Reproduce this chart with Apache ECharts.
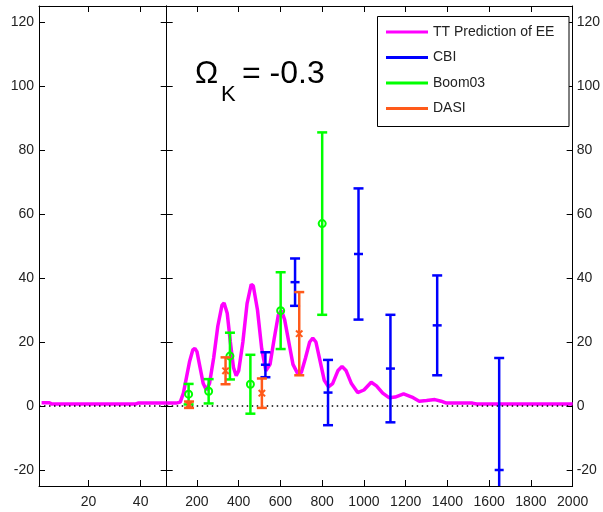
<!DOCTYPE html>
<html>
<head>
<meta charset="utf-8">
<script src="https://cdn.jsdelivr.net/npm/echarts@6/dist/echarts.min.js"></script>
<style>html,body{margin:0;padding:0;background:#fff;}#c{width:603px;height:512px;}</style>
</head>
<body>
<div id="c"></div>
<script>
// ---- data ----
var ttLeft = [[2,1.0],[5,1.0],[6,0.6],[38,0.6],[39,0.9],[50,0.9]];
var ttRight = [[55,0.9],[100,0.9],[120,1.2],[135,4],[150,9],[165,14],[180,17.5],[190,18],[200,17],[215,12],[230,7],[245,5],[260,7],[280,15],[300,25],[320,31.5],[330,32.2],[345,29],[360,20],[375,12],[388,9.5],[400,11],[420,20],[440,32],[460,38],[470,37.5],[490,30],[510,18],[530,11],[550,13],[570,21],[590,28.5],[605,29.8],[620,27],[640,20],[660,13],[685,9.8],[700,10.5],[720,15],[740,20],[755,21.2],[770,20],[790,14],[810,8],[830,6],[850,7],[875,11],[895,12.4],[915,11],[940,7],[970,4.2],[1000,5],[1035,7.4],[1060,6.3],[1090,4],[1120,2.6],[1150,2.8],[1190,3.8],[1230,2.8],[1265,1.5],[1300,1.7],[1340,2],[1370,1.5],[1395,0.9],[1450,0.9],[1520,0.9],[1540,0.6],[2000,0.6]];
// [ell, value, error]
var cbi = [[528,12.9,3.9],[670,38.7,7.4],[828,4.2,10.2],[974,47.5,20.5],[1127,11.7,16.8],[1351,25.2,15.6],[1648,-20,35]];
var boom03 = [[160,3.7,3.2],[256,4.6,3.8],[358,15.6,7.3],[456,6.8,9.2],[601,29.8,12],[800,57,28.5]];
var dasi = [[162,0.4,1.0],[337,11,4.2],[511,4,4.6],[690,22.6,13]];
var yTicks = [-20,0,20,40,60,80,100,120];
var xTicksLeft = [20,40];
var xTicksRight = [200,400,600,800,1000,1200,1400,1600,1800,2000];
var legendNames = ['TT Prediction of EE','CBI','Boom03','DASI'];

var C_TT = '#ff00ff', C_CBI = '#0000ff', C_BOOM = '#00ff00', C_DASI = '#ff5a1a';
var FONT = 'Liberation Sans, Arial, Helvetica, sans-serif';

function errRender(kind, color) {
  return function (params, api) {
    var x = api.value(0), y = api.value(1), e = api.value(2);
    var cs = params.coordSys;
    var pT = api.coord([x, y + e]), pB = api.coord([x, y - e]), pC = api.coord([x, y]);
    var top = cs.y, bot = cs.y + cs.height;
    var yT = Math.max(pT[1], top), yB = Math.min(pB[1], bot);
    var st = {stroke: color, lineWidth: 2.5, fill: null};
    var ch = [];
    ch.push({type: 'line', shape: {x1: pC[0], y1: yT, x2: pC[0], y2: yB}, style: st});
    var cw = 5;
    if (pT[1] >= top) ch.push({type: 'line', shape: {x1: pC[0]-cw, y1: pT[1], x2: pC[0]+cw, y2: pT[1]}, style: st});
    if (pB[1] <= bot) ch.push({type: 'line', shape: {x1: pC[0]-cw, y1: pB[1], x2: pC[0]+cw, y2: pB[1]}, style: st});
    if (pC[1] >= top && pC[1] <= bot) {
      if (kind === 'plus') {
        ch.push({type: 'line', shape: {x1: pC[0]-4.5, y1: pC[1], x2: pC[0]+4.5, y2: pC[1]}, style: st});
      } else if (kind === 'circle') {
        ch.push({type: 'circle', shape: {cx: pC[0], cy: pC[1], r: 3.5}, style: {stroke: color, lineWidth: 2, fill: null}});
      } else {
        var s = 3.2;
        ch.push({type: 'line', shape: {x1: pC[0]-s, y1: pC[1]-s, x2: pC[0]+s, y2: pC[1]+s}, style: {stroke: color, lineWidth: 2}});
        ch.push({type: 'line', shape: {x1: pC[0]-s, y1: pC[1]+s, x2: pC[0]+s, y2: pC[1]-s}, style: {stroke: color, lineWidth: 2}});
      }
    }
    return {type: 'group', children: ch};
  };
}

var axisLine = {show: true, onZero: false, lineStyle: {color: '#000', width: 1}};
var labelStyle = {color: '#222', fontSize: 14, fontFamily: FONT, formatter: function (v) { return String(v); }};
function xAx(grid, min, max, ticks, pos, labels) {
  return {type: 'value', gridIndex: grid, min: min, max: max, position: pos,
    axisLine: axisLine, splitLine: {show: false},
    axisTick: {show: true, inside: true, length: 6, customValues: ticks, lineStyle: {color: '#000'}},
    axisLabel: labels ? Object.assign({show: true, margin: 9, customValues: ticks, showMinLabel: true, showMaxLabel: true}, labelStyle) : {show: false}};
}
function yAx(grid, pos, labels) {
  return {type: 'value', gridIndex: grid, min: -25, max: 125, position: pos,
    axisLine: axisLine, splitLine: {show: false},
    axisTick: {show: true, inside: true, length: 6, customValues: yTicks, lineStyle: {color: '#000'}},
    axisLabel: labels ? Object.assign({show: true, margin: pos === 'left' ? 5 : 4, customValues: yTicks}, labelStyle) : {show: false}};
}

var zeroStyle = {color: '#000', width: 1.5, type: [1.5, 3.5]};

var option = {
  animation: false,
  backgroundColor: '#fff',
  grid: [
    {left: 39, top: 6, width: 127.7, height: 480, show: false},
    {left: 166.7, top: 6, width: 410, height: 480, show: false}
  ],
  xAxis: [
    xAx(0, 1, 50, xTicksLeft, 'bottom', true),
    xAx(0, 1, 50, xTicksLeft, 'top', false),
    xAx(1, 55, 2000, xTicksRight, 'bottom', true),
    xAx(1, 55, 2000, xTicksRight, 'top', false)
  ],
  yAxis: [
    yAx(0, 'left', true),
    yAx(0, 'right', false),
    yAx(1, 'left', false),
    yAx(1, 'right', true)
  ],
  legend: {
    orient: 'vertical', left: 386, top: 24, padding: 0, itemWidth: 42, itemHeight: 3, itemGap: 9.5,
    selectedMode: false, z: 10,
    textStyle: {color: '#222', fontSize: 14, fontFamily: FONT, lineHeight: 16},
    data: legendNames.map(function (n) { return {name: n, icon: 'rect'}; })
  },
  graphic: [
    {type: 'rect', z: 5, shape: {x: 377.5, y: 16.5, width: 191.5, height: 110}, style: {fill: '#fff', stroke: '#000', lineWidth: 1}},
    {type: 'text', x: 195, y: 74.5, z: 10, style: {text: 'Ω', fontSize: 31, fontFamily: FONT, fill: '#000', verticalAlign: 'middle'}},
    {type: 'text', x: 221, y: 94.5, z: 10, style: {text: 'K', fontSize: 22, fontFamily: FONT, fill: '#000', verticalAlign: 'middle'}},
    {type: 'text', x: 242, y: 74.5, z: 10, style: {text: '= -0.3', fontSize: 32, fontFamily: FONT, fill: '#000', verticalAlign: 'middle'}}
  ],
  series: [
    {name: 'TT Prediction of EE', type: 'line', xAxisIndex: 0, yAxisIndex: 0, data: ttLeft, symbol: 'none', color: C_TT, lineStyle: {color: C_TT, width: 3.5}, z: 2},
    {name: 'TT Prediction of EE', type: 'line', xAxisIndex: 2, yAxisIndex: 2, data: ttRight, symbol: 'none', color: C_TT, lineStyle: {color: C_TT, width: 3.5}, z: 2},
    {name: 'zero0', type: 'line', xAxisIndex: 0, yAxisIndex: 0, data: [[1,0],[50,0]], symbol: 'none', lineStyle: zeroStyle, silent: true, z: 3},
    {name: 'zero1', type: 'line', xAxisIndex: 2, yAxisIndex: 2, data: [[55,0],[2000,0]], symbol: 'none', lineStyle: zeroStyle, silent: true, z: 3},
    {name: 'CBI', type: 'custom', xAxisIndex: 2, yAxisIndex: 2, data: cbi, color: C_CBI, itemStyle: {color: C_CBI}, renderItem: errRender('plus', C_CBI), encode: {x: 0, y: 1}, z: 4},
    {name: 'Boom03', type: 'custom', xAxisIndex: 2, yAxisIndex: 2, data: boom03, color: C_BOOM, itemStyle: {color: C_BOOM}, renderItem: errRender('circle', C_BOOM), encode: {x: 0, y: 1}, z: 4},
    {name: 'DASI', type: 'custom', xAxisIndex: 2, yAxisIndex: 2, data: dasi, color: C_DASI, itemStyle: {color: C_DASI}, renderItem: errRender('x', C_DASI), encode: {x: 0, y: 1}, z: 4}
  ]
};
var chart = echarts.init(document.getElementById('c'), null, {renderer: 'canvas'});
chart.setOption(option);
</script>
</body>
</html>
